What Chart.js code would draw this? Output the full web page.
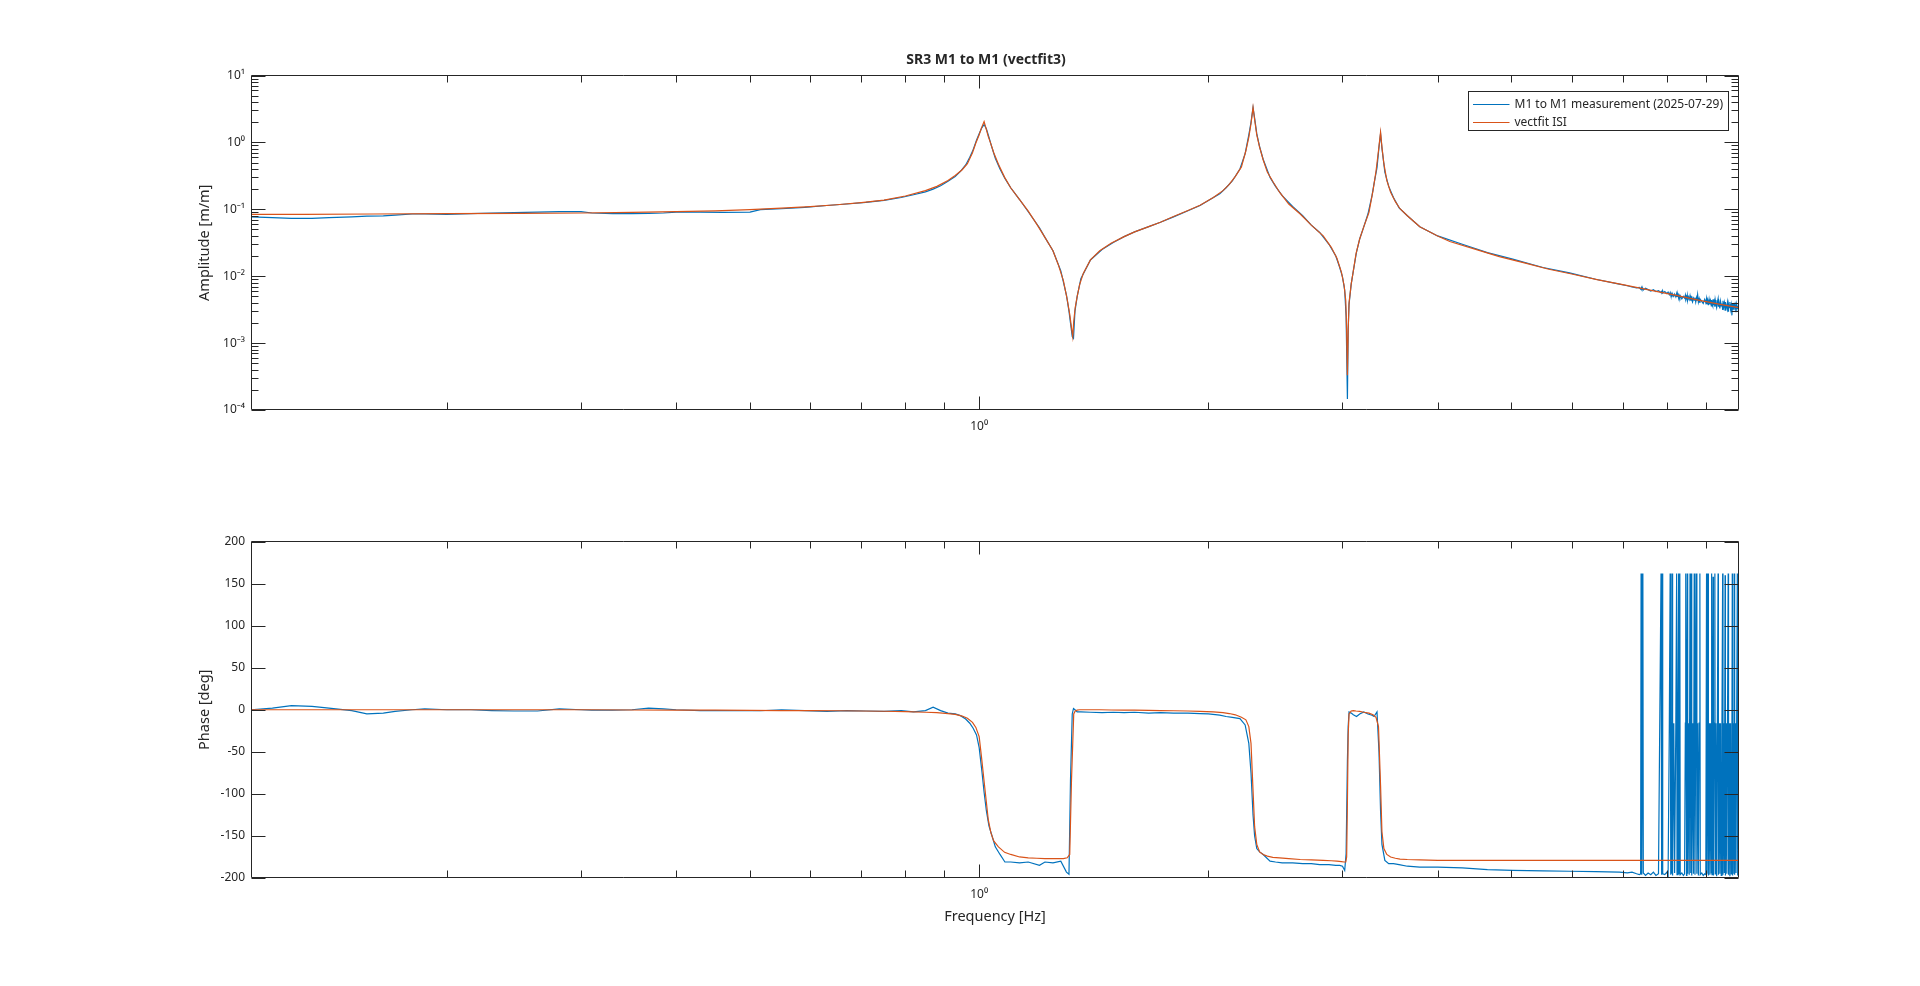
<!DOCTYPE html>
<html>
<head>
<meta charset="utf-8">
<title>SR3 M1 to M1 (vectfit3)</title>
<script src="https://cdn.jsdelivr.net/npm/chart.js@4.4.1/dist/chart.umd.min.js"></script>
<style>
  html, body { margin: 0; padding: 0; background: #fff; }
  #wrap { position: relative; width: 1920px; height: 986px; }
  canvas { position: absolute; left: 0; }
  #ampCanvas { top: 0; }
  #phaseCanvas { top: 470px; }
</style>
</head>
<body>
<div id="wrap">
  <canvas id="ampCanvas" width="1920" height="470"></canvas>
  <canvas id="phaseCanvas" width="1920" height="516"></canvas>
</div>
<script>
// vectfit ISI (smooth fit)
const freqFit = [
  0.1106, 0.13, 0.16, 0.2, 0.25, 0.3, 0.35, 0.4, 0.45, 0.5,
  0.55, 0.6, 0.65, 0.7, 0.75, 0.8, 0.85, 0.88, 0.91, 0.93,
  0.95, 0.965, 0.98, 0.99, 1.0, 1.007, 1.015, 1.022, 1.028, 1.036,
  1.045, 1.06, 1.08, 1.1, 1.13, 1.16, 1.19, 1.22, 1.25, 1.27,
  1.29, 1.305, 1.315, 1.322, 1.327, 1.331, 1.337, 1.345, 1.355, 1.37,
  1.4, 1.44, 1.49, 1.55, 1.6, 1.67, 1.73, 1.8, 1.88, 1.95,
  2.03, 2.09, 2.13, 2.17, 2.21, 2.24, 2.26, 2.275, 2.289, 2.3,
  2.315, 2.335, 2.36, 2.39, 2.43, 2.48, 2.55, 2.64, 2.73, 2.83,
  2.9, 2.95, 2.99, 3.015, 3.03, 3.038, 3.045, 3.052, 3.06, 3.08,
  3.1, 3.125, 3.16, 3.2, 3.25, 3.29, 3.32, 3.345, 3.366, 3.38,
  3.4, 3.43, 3.47, 3.52, 3.57, 3.65, 3.79, 4.0, 4.15, 4.5,
  4.82, 5.2, 5.6, 6.0, 6.5, 7.0, 7.6, 8.2, 8.8, 9.4, 9.95
];
const ampFit = [
  0.084, 0.084, 0.085, 0.086, 0.087, 0.088, 0.090, 0.092, 0.095, 0.099,
  0.104, 0.110, 0.117, 0.126, 0.137, 0.158, 0.19, 0.22, 0.27, 0.32,
  0.39, 0.48, 0.70, 0.98, 1.3, 1.65, 2.05, 1.55, 1.22, 0.95,
  0.70, 0.47, 0.30, 0.21, 0.14, 0.094, 0.060, 0.038, 0.024, 0.015,
  0.0086, 0.0045, 0.0027, 0.0017, 0.00125, 0.0021, 0.0034, 0.0050, 0.0075, 0.011,
  0.0175, 0.024, 0.031, 0.039, 0.046, 0.055, 0.064, 0.078, 0.096, 0.115,
  0.15, 0.19, 0.235, 0.31, 0.43, 0.75, 1.2, 1.9, 3.35, 2.2,
  1.3, 0.85, 0.55, 0.36, 0.26, 0.18, 0.12, 0.085, 0.058, 0.040,
  0.027, 0.0185, 0.0115, 0.0072, 0.0043, 0.0015, 0.00033, 0.0015, 0.0040, 0.0076,
  0.012, 0.0215, 0.036, 0.055, 0.09, 0.19, 0.37, 0.75, 1.42, 0.85,
  0.48, 0.27, 0.18, 0.13, 0.102, 0.08, 0.055, 0.040, 0.033, 0.025,
  0.0196, 0.0158, 0.0127, 0.0108, 0.0088, 0.0075, 0.0062, 0.0052, 0.0044, 0.0038, 0.0034
];
const phaseFit = [
  0, 0, 0, 0, 0, 0, -0.3, -0.5, -0.5, -0.8,
  -1, -1, -1.2, -1.5, -1.8, -2.2, -3, -3.5, -4.5, -5.5,
  -7.5, -10, -15, -21, -32, -56, -85, -110, -131, -146,
  -156, -163, -169.5, -172, -175, -176, -176.5, -177, -177, -177,
  -177, -176, -172, -84, -40, -5, -1.5, -0.5, 0, 0,
  0, 0, -0.3, -0.5, -0.5, -0.8, -1, -1.2, -1.5, -2,
  -2.5, -3.5, -4.5, -6, -9, -12, -20, -40, -96, -139,
  -160, -169, -172, -174, -175.5, -176, -177, -178, -178.5, -179,
  -179.5, -180, -180.5, -181, -181, -175, -110, -30, -5, -1.5,
  -1, -1.5, -2, -3, -4, -6, -9, -20, -90, -145,
  -165, -172, -175, -176.5, -177.5, -178, -178.5, -179, -179, -179,
  -179, -179, -179, -179, -179, -179, -179, -179, -179, -179, -179
];

// M1 to M1 measurement (2025-07-29), up to 7.3 Hz
const freqMeas = [
  0.1106, 0.118, 0.125, 0.133, 0.14, 0.15, 0.157, 0.165, 0.171, 0.18,
  0.187, 0.2, 0.215, 0.229, 0.245, 0.263, 0.281, 0.3, 0.31, 0.33,
  0.35, 0.368, 0.385, 0.4, 0.43, 0.46, 0.5, 0.516, 0.55, 0.59,
  0.631, 0.67, 0.71, 0.75, 0.79, 0.82, 0.85, 0.87, 0.89, 0.91,
  0.93, 0.945, 0.96, 0.972, 0.982, 0.992, 1.0, 1.008, 1.015, 1.022,
  1.03, 1.038, 1.05, 1.065, 1.081, 1.1, 1.13, 1.16, 1.2, 1.22,
  1.25, 1.28, 1.302, 1.312, 1.318, 1.325, 1.33, 1.336, 1.345, 1.36,
  1.4, 1.45, 1.5, 1.55, 1.6, 1.67, 1.73, 1.8, 1.88, 1.95,
  2.0, 2.07, 2.11, 2.15, 2.2, 2.235, 2.26, 2.275, 2.289, 2.3,
  2.315, 2.335, 2.36, 2.41, 2.45, 2.5, 2.58, 2.66, 2.73, 2.8,
  2.88, 2.94, 2.975, 3.0, 3.02, 3.033, 3.045, 3.052, 3.06, 3.08,
  3.1, 3.13, 3.16, 3.2, 3.24, 3.28, 3.3, 3.33, 3.35, 3.366,
  3.38, 3.41, 3.45, 3.5, 3.56, 3.65, 3.79, 4.0, 4.31, 4.65,
  5.02, 5.5, 5.96, 6.45, 6.93, 7.1, 7.2, 7.3
];
const ampMeas = [
  0.077, 0.075, 0.073, 0.073, 0.075, 0.077, 0.079, 0.080, 0.082, 0.085,
  0.085, 0.084, 0.086, 0.088, 0.089, 0.091, 0.092, 0.092, 0.088, 0.086,
  0.086, 0.087, 0.088, 0.091, 0.091, 0.090, 0.091, 0.099, 0.102, 0.107,
  0.114, 0.120, 0.127, 0.136, 0.150, 0.165, 0.182, 0.200, 0.225, 0.262,
  0.31, 0.37, 0.46, 0.60, 0.78, 1.08, 1.35, 1.65, 1.85, 1.6,
  1.2, 0.88, 0.58, 0.40, 0.29, 0.21, 0.14, 0.092, 0.053, 0.038,
  0.024, 0.012, 0.0052, 0.0030, 0.0020, 0.00125, 0.00118, 0.0030, 0.0050, 0.0092,
  0.0175, 0.025, 0.032, 0.039, 0.046, 0.055, 0.064, 0.077, 0.095, 0.114,
  0.135, 0.17, 0.21, 0.265, 0.40, 0.68, 1.3, 2.0, 3.3, 2.3,
  1.35, 0.86, 0.56, 0.30, 0.22, 0.16, 0.11, 0.080, 0.058, 0.045,
  0.030, 0.020, 0.0135, 0.0098, 0.0062, 0.0025, 0.000146, 0.0016, 0.0038, 0.0076,
  0.012, 0.023, 0.036, 0.055, 0.085, 0.16, 0.24, 0.42, 0.85, 1.35,
  0.82, 0.36, 0.22, 0.15, 0.105, 0.080, 0.055, 0.040, 0.030, 0.0225,
  0.0180, 0.0135, 0.0112, 0.0090, 0.0076, 0.0072, 0.0069, 0.0067
];
const phaseMeas = [
  0, 2, 5, 4, 2, -1, -5, -4, -2, 0,
  1, 0, 0, -1, -1.5, -1.5, 1, 0, -0.5, -0.5,
  0, 2, 1, 0, -1, -1, -1, -1.2, 0, -1,
  -2, -1, -1.5, -2, -1, -2.5, -1, 3, -1, -4,
  -5, -7, -11, -16, -22, -30, -45, -72, -98, -120,
  -138, -148, -163, -172, -181, -181, -182, -181, -185, -181,
  -182, -180, -193, -195.5, -84, -5, 1.5, 0, -2.6, -2.6,
  -3, -3.5, -3, -3.5, -3, -4, -3.5, -4, -4, -4.5,
  -5, -6.5, -8, -9, -10.5, -18, -40, -75, -125, -150,
  -165, -169, -172, -180, -181, -182, -182, -183, -183, -184,
  -184, -185, -185, -186, -191, -171, -60, -20, -2.6, -4,
  -6, -8, -5, -2.6, -5, -6.5, -8, -2.6, -50, -120,
  -160, -179, -183, -183, -184, -186, -187, -187, -188, -190,
  -191, -191.5, -192, -192.5, -193, -194, -193, -195
];

// noisy high-frequency tail of the measurement
const freqTail = [
  7.36, 7.39, 7.40, 7.41, 7.42, 7.43, 7.44, 7.45, 7.50, 7.56,
  7.62, 7.68, 7.74, 7.80, 7.86, 7.87, 7.88, 7.89, 7.90, 7.95,
  8.00, 8.03, 8.06, 8.08, 8.09, 8.10, 8.12, 8.13, 8.14, 8.17,
  8.19, 8.22, 8.24, 8.25, 8.27, 8.29, 8.30, 8.32, 8.33, 8.37,
  8.41, 8.44, 8.46, 8.47, 8.49, 8.50, 8.51, 8.52, 8.54, 8.56,
  8.58, 8.60, 8.61, 8.62, 8.63, 8.65, 8.67, 8.69, 8.71, 8.73,
  8.75, 8.76, 8.78, 8.80, 8.82, 8.84, 8.85, 8.89, 8.93, 8.97,
  9.00, 9.02, 9.03, 9.05, 9.06, 9.07, 9.09, 9.11, 9.13, 9.15,
  9.16, 9.17, 9.19, 9.20, 9.21, 9.23, 9.25, 9.26, 9.28, 9.30,
  9.32, 9.34, 9.35, 9.37, 9.39, 9.41, 9.43, 9.45, 9.47, 9.48,
  9.50, 9.52, 9.54, 9.55, 9.57, 9.59, 9.61, 9.63, 9.64, 9.66,
  9.68, 9.70, 9.72, 9.74, 9.75, 9.76, 9.78, 9.80, 9.81, 9.82,
  9.84, 9.86, 9.88, 9.90, 9.91, 9.93, 9.95
];
const ampTail = [
  0.0068, 0.0064, 0.0066, 0.0063, 0.0067, 0.0064, 0.0065, 0.0062, 0.0066, 0.0063,
  0.0060, 0.0063, 0.0059, 0.0061, 0.0057, 0.0060, 0.0058, 0.0061, 0.0056, 0.0059,
  0.0055, 0.0058, 0.0053, 0.0057, 0.0052, 0.0056, 0.0051, 0.0055, 0.0053, 0.0050,
  0.0054, 0.0049, 0.0055, 0.0050, 0.0053, 0.0047, 0.0052, 0.0048, 0.0051, 0.0046,
  0.0050, 0.0047, 0.0052, 0.0045, 0.0049, 0.0046, 0.0051, 0.0044, 0.0049, 0.0045,
  0.0051, 0.0043, 0.0048, 0.0045, 0.0050, 0.0042, 0.0047, 0.0044, 0.0048, 0.0041,
  0.0047, 0.0043, 0.0053, 0.0041, 0.0046, 0.0040, 0.0045, 0.0042, 0.0039, 0.0045,
  0.0040, 0.0046, 0.0038, 0.0044, 0.0041, 0.0037, 0.0045, 0.0038, 0.0043, 0.0036,
  0.0044, 0.0039, 0.0036, 0.0045, 0.0037, 0.0042, 0.0035, 0.0044, 0.0038, 0.0034,
  0.0041, 0.0046, 0.0035, 0.0040, 0.0033, 0.0042, 0.0036, 0.0039, 0.0032, 0.0043,
  0.0035, 0.0040, 0.0031, 0.0041, 0.0036, 0.0033, 0.0040, 0.0030, 0.0038, 0.0034,
  0.0041, 0.0032, 0.0037, 0.0026, 0.0039, 0.0033, 0.0036, 0.0031, 0.0040, 0.0033,
  0.0037, 0.0029, 0.0038, 0.0033, 0.0036, 0.0031, 0.0035
];
const phaseTail = [
  -196, -195, 162, -16, -196, -16, 162, -194, -197, -194,
  -196, -193, -197, -195, 162, -16, -196, 162, -195, -196,
  -193, -197, -16, 162, -196, -16, -195, 162, -197, -16,
  -194, -16, 162, -196, -16, 162, -195, 162, -196, -194,
  -197, -195, -16, 162, -197, -16, 162, -195, -16, -196,
  162, -194, -16, 162, -197, -16, -195, 162, -196, -16,
  162, -195, -16, -197, -16, 162, -196, -194, -197, -195,
  -196, 162, -195, -16, 162, -197, -16, -196, -16, -194,
  162, -196, -16, 158, -197, -16, 162, -195, -16, -198,
  -16, 162, -196, -16, -195, -16, -197, -16, 162, -196,
  -16, -194, 160, -197, -16, -195, -16, 162, -196, -16,
  -198, -16, -195, -16, 162, -197, -16, -195, 162, -196,
  -16, -194, -16, 162, -197, -16, -196
];

const seriesNames = ['M1 to M1 measurement (2025-07-29)', 'vectfit ISI'];
const plotTitle = 'SR3 M1 to M1 (vectfit3)';
const xMajorTicks = [1];
const xMinorTicks = [0.2, 0.3, 0.4, 0.5, 0.6, 0.7, 0.8, 0.9, 2, 3, 4, 5, 6, 7, 8, 9];
const ampMajorTicks = [1e-4, 1e-3, 1e-2, 1e-1, 1, 10];
const ampMinorTicks = [];
ampMajorTicks.slice(0, -1).forEach(d => [2, 3, 4, 5, 6, 7, 8, 9].forEach(m => ampMinorTicks.push(m * d)));
const phaseTicks = [-200, -150, -100, -50, 0, 50, 100, 150, 200];

const blue = '#0072BD', orange = '#D95319', ink = '#262626';
const family = '"Noto Sans", "DejaVu Sans", sans-serif';
const tickFont = { family, size: 12 };
const labelFont = { family, size: 14.5 };

const SUP = { '-': '⁻', '0': '⁰', '1': '¹', '2': '²', '3': '³', '4': '⁴' };
const pow10Label = v => '10' + String(Math.round(Math.log10(v))).split('').map(c => SUP[c]).join('');
const toPoints = (xs, ys) => xs.map((x, i) => ({ x, y: ys[i] }));
const measFreqAll = freqMeas.concat(freqTail);

// MATLAB style box with inward ticks on all four sides
const frameTicks = {
  id: 'frameTicks',
  afterDraw(chart, args, opts) {
    const { ctx, chartArea: a, scales } = chart;
    const L = Math.floor(a.left) + 0.5, R = Math.floor(a.right) - 0.5;
    const T = Math.floor(a.top) + 0.5, B = Math.floor(a.bottom) - 0.5;
    ctx.save();
    ctx.strokeStyle = ink;
    ctx.lineWidth = 1;
    ctx.beginPath();
    opts.x.forEach(t => {
      const p = Math.round(scales.x.getPixelForValue(t.v)) + 0.5;
      ctx.moveTo(p, B); ctx.lineTo(p, B - t.len);
      ctx.moveTo(p, T); ctx.lineTo(p, T + t.len);
    });
    opts.y.forEach(t => {
      const p = Math.round(scales.y.getPixelForValue(t.v)) + 0.5;
      ctx.moveTo(L, p); ctx.lineTo(L + t.len, p);
      ctx.moveTo(R, p); ctx.lineTo(R - t.len, p);
    });
    ctx.rect(L, T, R - L, B - T);
    ctx.stroke();
    if (opts.title) {
      ctx.fillStyle = ink;
      ctx.font = 'bold 14px ' + family;
      ctx.textAlign = 'center';
      ctx.textBaseline = 'middle';
      ctx.fillText(opts.title, (a.left + a.right) / 2 - 9, a.top - 15.5);
    }
    ctx.restore();
  }
};

const boxLegend = {
  id: 'boxLegend',
  afterDraw(chart) {
    const { ctx, chartArea: a } = chart;
    const ds = chart.data.datasets;
    ctx.save();
    ctx.font = '12px ' + family;
    const textW = Math.max(...ds.map(d => ctx.measureText(d.label).width));
    const padL = 4.5, lineLen = 36.5, gap = 5, padR = 5.5, rowH = 18;
    const w = Math.round(padL + lineLen + gap + textW + padR), h = 39;
    const x0 = Math.round(a.right - 11 - w) + 0.5, y0 = Math.round(a.top + 15) + 0.5;
    ctx.fillStyle = '#fff';
    ctx.fillRect(x0, y0, w, h);
    ctx.strokeStyle = ink;
    ctx.lineWidth = 1;
    ctx.strokeRect(x0, y0, w, h);
    ds.forEach((d, i) => {
      const cy = Math.round(y0 + 12 + i * rowH) + 0.5;
      ctx.strokeStyle = d.borderColor;
      ctx.beginPath();
      ctx.moveTo(x0 + padL, cy);
      ctx.lineTo(x0 + padL + lineLen, cy);
      ctx.stroke();
      ctx.fillStyle = ink;
      ctx.textAlign = 'left';
      ctx.textBaseline = 'middle';
      ctx.fillText(d.label, x0 + padL + lineLen + gap, cy);
    });
    ctx.restore();
  }
};

const xTickMarks = xMajorTicks.map(v => ({ v, len: 13 })).concat(xMinorTicks.map(v => ({ v, len: 7 })));

function xScale(height, title) {
  return {
    type: 'logarithmic', position: 'bottom', min: 0.1106, max: 9.95,
    grid: { display: false, drawTicks: false }, border: { display: false },
    afterBuildTicks: s => { s.ticks = xMajorTicks.map(v => ({ value: v })); },
    ticks: { color: ink, font: tickFont, padding: 9, maxRotation: 0, autoSkip: false, callback: v => pow10Label(v) },
    title: title ? { display: true, text: title, color: ink, font: labelFont, padding: { top: 0, bottom: 60.5 } } : { display: false },
    afterFit: s => { s.height = height; }
  };
}

function baseOptions() {
  return {
    responsive: false, animation: false, events: [],
    elements: { line: { borderWidth: 1.2, tension: 0, fill: false }, point: { radius: 0 } },
  };
}

new Chart(document.getElementById('ampCanvas'), {
  type: 'line',
  data: {
    datasets: [
      { label: seriesNames[0], data: toPoints(measFreqAll, ampMeas.concat(ampTail)), borderColor: blue, order: 1 },
      { label: seriesNames[1], data: toPoints(freqFit, ampFit), borderColor: orange, order: 0 }
    ]
  },
  options: Object.assign(baseOptions(), {
    layout: { padding: { left: 0, right: 181, top: 75.5, bottom: 0 } },
    plugins: {
      legend: { display: false }, tooltip: { enabled: false }, title: { display: false },
      frameTicks: {
        title: plotTitle,
        x: xTickMarks,
        y: ampMajorTicks.map(v => ({ v, len: 14 })).concat(ampMinorTicks.map(v => ({ v, len: 7 })))
      }
    },
    scales: {
      x: xScale(60, null),
      y: {
        type: 'logarithmic', min: 1e-4, max: 10,
        grid: { display: false, drawTicks: false }, border: { display: false },
        afterBuildTicks: s => { s.ticks = ampMajorTicks.map(v => ({ value: v })); },
        ticks: { color: ink, font: tickFont, padding: 6, callback: v => pow10Label(v) },
        title: { display: true, text: 'Amplitude [m/m]', color: ink, font: labelFont, padding: { top: 196.5, bottom: 0 } },
        afterFit: s => { s.width = 251; }
      }
    }
  }),
  plugins: [frameTicks, boxLegend]
});

new Chart(document.getElementById('phaseCanvas'), {
  type: 'line',
  data: {
    datasets: [
      { label: seriesNames[0], data: toPoints(measFreqAll, phaseMeas.concat(phaseTail)), borderColor: blue, order: 1 },
      { label: seriesNames[1], data: toPoints(freqFit, phaseFit), borderColor: orange, order: 0 }
    ]
  },
  options: Object.assign(baseOptions(), {
    layout: { padding: { left: 0, right: 181, top: 71.5, bottom: 0 } },
    plugins: {
      legend: { display: false }, tooltip: { enabled: false },
      frameTicks: {
        x: xTickMarks,
        y: phaseTicks.map(v => ({ v, len: 14 }))
      }
    },
    scales: {
      x: xScale(108, 'Frequency [Hz]'),
      y: {
        type: 'linear', min: -200, max: 200,
        grid: { display: false, drawTicks: false }, border: { display: false },
        afterBuildTicks: s => { s.ticks = phaseTicks.map(v => ({ value: v })); },
        ticks: { color: ink, font: tickFont, padding: 6, callback: v => String(v) },
        title: { display: true, text: 'Phase [deg]', color: ink, font: labelFont, padding: { top: 196.5, bottom: 0 } },
        afterFit: s => { s.width = 251; }
      }
    }
  }),
  plugins: [frameTicks]
});
</script>
</body>
</html>
